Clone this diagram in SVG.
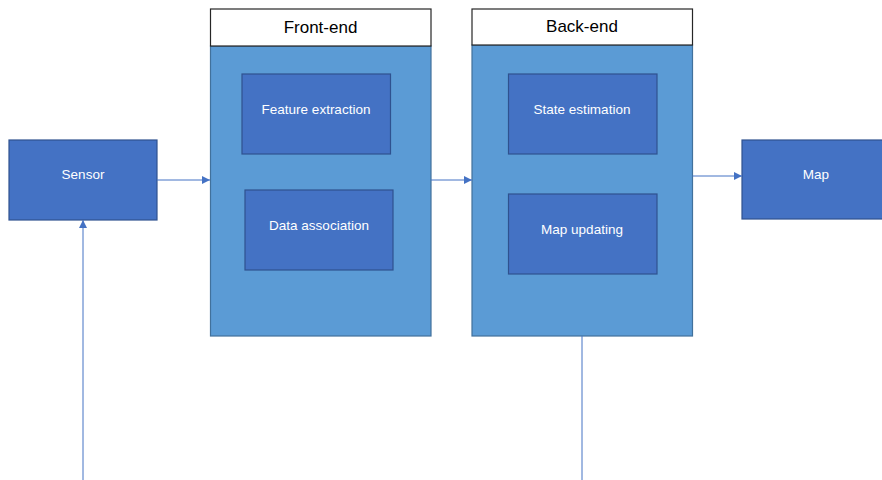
<svg xmlns="http://www.w3.org/2000/svg" width="882" height="480" viewBox="0 0 882 480">
  <style>
    .box { fill: #4472C4; stroke: #2F528F; stroke-width: 1.2; }
    .panel { fill: #5B9BD5; stroke: #41719C; stroke-width: 1.2; }
    .head { fill: #FFFFFF; stroke: #262626; stroke-width: 1.2; }
    .lbl { font-family: "Liberation Sans", Arial, sans-serif; font-size: 13.5px; fill: #FFFFFF; text-anchor: middle; dominant-baseline: central; }
    .hlbl { font-family: "Liberation Sans", Arial, sans-serif; font-size: 17px; fill: #000000; text-anchor: middle; dominant-baseline: central; }
    .conn { stroke: #4472C4; stroke-width: 1; fill: none; }
  </style>
  <defs>
    <marker id="arrow" viewBox="0 0 10 10" refX="10" refY="5" markerWidth="8" markerHeight="8" markerUnits="userSpaceOnUse" orient="auto">
      <path d="M0,0 L10,5 L0,10 Z" fill="#4472C4"/>
    </marker>
  </defs>

  <g id="sensor">
    <rect class="box" x="9" y="140" width="148" height="80"/>
    <text class="lbl" x="83" y="174">Sensor</text>
  </g>

  <g id="front-end">
    <rect class="panel" x="210.5" y="46" width="220.5" height="290"/>
    <rect class="head" x="210.5" y="9" width="220.5" height="37"/>
    <text class="hlbl" x="320.5" y="27">Front-end</text>
  </g>
  <g id="feature-extraction">
    <rect class="box" x="242" y="74" width="148.5" height="80"/>
    <text class="lbl" x="316" y="109">Feature extraction</text>
  </g>
  <g id="data-association">
    <rect class="box" x="245" y="190" width="148" height="80"/>
    <text class="lbl" x="319" y="225">Data association</text>
  </g>

  <g id="back-end">
    <rect class="panel" x="472" y="45" width="220.5" height="291"/>
    <rect class="head" x="472" y="9" width="220.5" height="36"/>
    <text class="hlbl" x="582" y="26">Back-end</text>
  </g>
  <g id="state-estimation">
    <rect class="box" x="508.5" y="74" width="148.5" height="80"/>
    <text class="lbl" x="582" y="109">State estimation</text>
  </g>
  <g id="map-updating">
    <rect class="box" x="508.5" y="194" width="148.5" height="80"/>
    <text class="lbl" x="582" y="229">Map updating</text>
  </g>

  <g id="map">
    <rect class="box" x="742" y="140" width="148" height="79"/>
    <text class="lbl" x="816" y="174">Map</text>
  </g>

  <g id="connectors">
    <line class="conn" x1="157" y1="180" x2="210" y2="180" marker-end="url(#arrow)"/>
    <line class="conn" x1="431" y1="180" x2="472" y2="180" marker-end="url(#arrow)"/>
    <line class="conn" x1="692.5" y1="176" x2="742" y2="176" marker-end="url(#arrow)"/>
    <line class="conn" x1="83" y1="480" x2="83" y2="220" marker-end="url(#arrow)"/>
    <line class="conn" x1="582" y1="336" x2="582" y2="480"/>
  </g>
</svg>
